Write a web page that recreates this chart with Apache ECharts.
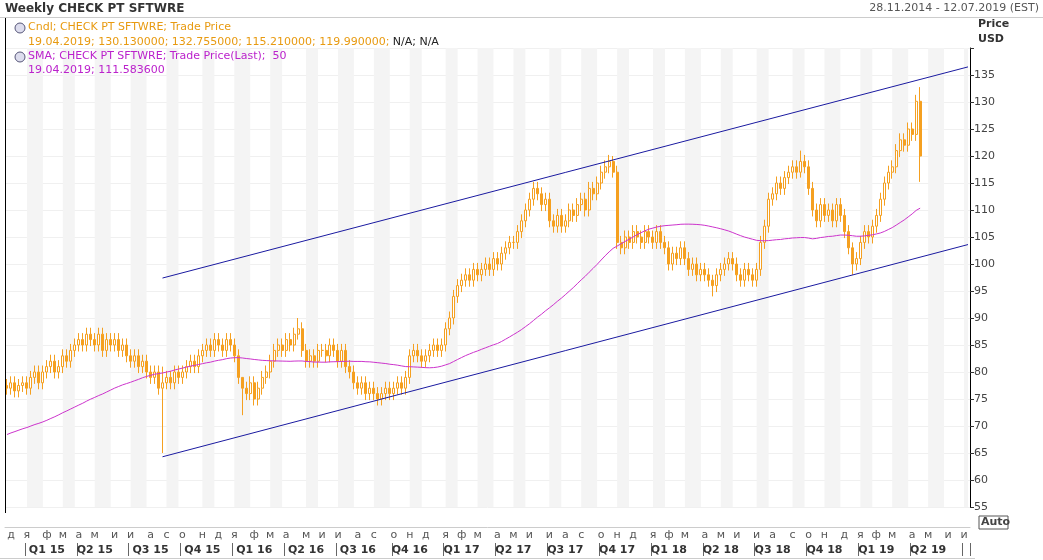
<!DOCTYPE html>
<html><head><meta charset="utf-8">
<script src="https://cdn.jsdelivr.net/npm/echarts@6/dist/echarts.min.js"></script>
<style>html,body{margin:0;padding:0;background:#fff}#c{width:1043px;height:560px}</style>
</head><body><div id="c"></div>
<script>
// Weekly closes, 28.11.2014 .. 19.04.2019
const closes = [
77,78,76.5,77.5,78,
77,79,80,78,80, 81,82,80,81, 83,82,84,85, 86,85,87,86, 85,87,84,86,85, 86,84,85,83,
82,83,81,82,80, 79,80,77,78, 79,78,80,79, 80,81,82,81,83, 84,85,84,86, 85,84,86,85,
83,79,77,76,78, 75,77,79,80, 82,84,85,84, 86,85,87,88,84, 82,83,82,84, 84,83,85,84,
82,84,81,80,78, 77,78,76,77, 76,75,76,77,76, 77,78,77,79, 83,84,83,82, 83,84,85,84,85,
88,90,94,96, 97,98,97,99, 98,99,100,99,101, 100,102,103,104, 104,106,108,110, 112,114,113,111,112,
108,107,109,107, 108,110,109,111, 112,110,114,113,115, 117,118,119,117, 104,103,105,104, 106,105,104,106,105,
104,106,104,103, 100,102,101,103, 101,99,100,98,99, 98,97,96,98, 99,100,101,100, 98,97,99,98,97,
99,104,107,112, 113,115,114,116,117, 118,117,119,118, 114,110,108,111, 109,110,108,111,109, 106,103,100,101,
104,106,105,107, 109,112,115,117,118, 121,123,122,125, 124,130.13,119.99
];
// closes of the 49 weeks before the window (for SMA 50)
const priorCloses = [63,64,64,65,66,65,66,67,67,66,65,64,63,64,65,66,67,68,68,67,68,69,70,69,68,67,68,69,70,71,70,69,68,67,68,69,70,71,72,71,70,69,70,71,72,73,74,75,76];
const firstOpen = 77.5;
const wick = 1.2;
// notable candles: date -> [open, high, low]
const overrides = {
 '2015-08-28':[null,81,65], '2016-01-15':[null,79,72], '2016-04-22':[null,90,86],
 '2018-04-20':[null,98,94], '2018-12-21':[null,104,98], '2017-10-27':[null,120,116],
 '2018-09-21':[null,121,116], '2019-04-19':[130.13,132.755,115.21]
};
const monthLetters = ['я','ф','м','а','м','и','и','а','с','о','н','д'];
const smaLast = 111.5836, lastClose = 119.99;
const channelUpper = [['2015-08-28',97.4],['2019-07-12',136.5]];
const channelLower = [['2015-08-28',64.3],['2019-07-12',103.6]];

const cats = [];
let d = new Date(Date.UTC(2014,10,28));
for (let i=0;i<242;i++){cats.push(d.toISOString().slice(0,10)); d = new Date(d.getTime()+7*864e5);}
const candle = closes.map((c,i)=>{
  const k=cats[i]; let o = i? closes[i-1]:firstOpen;
  let h=Math.max(o,c)+wick, l=Math.min(o,c)-wick;
  if(overrides[k]){const v=overrides[k]; if(v[0]!=null)o=v[0]; h=v[1]; l=v[2];}
  return [o,c,l,h];
});
const all = priorCloses.concat(closes);
const sma = closes.map((c,i)=>{let s=0;for(let j=i;j<i+50;j++)s+=all[j];return +(s/50).toFixed(3);});

const mon = k=>+k.slice(5,7);
const isMonthStart = i=> i===0 || mon(cats[i])!==mon(cats[i-1]);
const isQStart = i=> i>0 && isMonthStart(i) && (mon(cats[i])-1)%3===0;
const isQMid = i=> i>0 && isMonthStart(i) && (mon(cats[i])-1)%3===1;
const bands=[]; let start=null;
for(let i=0;i<cats.length;i++){ if(isMonthStart(i)){ if(start!=null){bands.push([start,i-1]);start=null;} if(mon(cats[i])%2===1) start=i; } }
if(start!=null) bands.push([start,cats.length-1]);
const markAreas = bands.map(b=>[{xAxis:cats[b[0]]},{xAxis:cats[b[1]]}]);

const orange='#f5a020', mag='#cc33cc', navy='#1a1aa0';
const F='11px Verdana, DejaVu Sans';
const chart = echarts.init(document.getElementById('c'));
chart.setOption({
 animation:false,
 grid:{left:5,right:73,top:48,bottom:53,containLabel:false,outerBoundsMode:'none'},
 xAxis:[{type:'category',data:cats,boundaryGap:true,offset:20,
   axisLine:{lineStyle:{color:'#ccc'}},
   axisTick:{interval:(i)=>isMonthStart(i),length:4,lineStyle:{color:'#666'}},
   axisLabel:{interval:(i)=>isMonthStart(i),hideOverlap:false,formatter:v=>monthLetters[mon(v)-1],color:'#555',fontSize:11,fontFamily:'DejaVu Sans',margin:3},
   splitLine:{show:false}},
  {type:'category',data:cats,position:'bottom',offset:36,axisLine:{show:true,lineStyle:{color:'rgba(0,0,0,0)'}},
   axisTick:{show:true,interval:(i)=>isQStart(i),length:13,lineStyle:{color:'#666',width:1}},
   axisLabel:{interval:0,hideOverlap:false,formatter:(v,i)=>isQMid(i)?'Q'+Math.ceil(mon(v)/3)+' '+v.slice(2,4):'',color:'#333',fontWeight:'bold',fontSize:11,fontFamily:'DejaVu Sans',margin:2}}],
 yAxis:{type:'value',position:'right',min:55,max:140,interval:5,
   axisLine:{show:true,lineStyle:{color:'#000'}},axisTick:{show:true,length:4,lineStyle:{color:'#333'}},
   axisLabel:{color:'#444',fontSize:11,fontFamily:'Verdana, DejaVu Sans',margin:4,formatter:v=>v>=140?'':v},
   splitLine:{lineStyle:{color:'#f0f0f0'}}},
 series:[
  {type:'candlestick',data:candle,barWidth:2.5,
   itemStyle:{color:'#ffffff',color0:orange,borderColor:orange,borderColor0:orange,borderWidth:1},
   markArea:{silent:true,itemStyle:{color:'#f4f4f4'},data:markAreas},
   markLine:{silent:true,symbol:'none',animation:false,
     data:[
      [{coord:channelUpper[0]},{coord:channelUpper[1]}],
      [{coord:channelLower[0]},{coord:channelLower[1]}],
      {yAxis:lastClose,lineStyle:{opacity:0},label:{show:true,position:'end',distance:2,formatter:'119.990000',backgroundColor:'#f5a000',color:'#000',fontWeight:'bold',fontSize:11,padding:[2,3]}},
      {yAxis:smaLast,lineStyle:{opacity:0},label:{show:true,position:'end',distance:2,formatter:'111.583600',backgroundColor:'#dd44ee',color:'#222',fontSize:11,padding:[2,3]}}
     ],
     lineStyle:{color:navy,width:1,type:'solid'},label:{show:false}}},
  {type:'line',data:sma,symbol:'none',lineStyle:{color:mag,width:1},z:3}
 ],
 graphic:{elements:[
  {type:'text',z:100,left:5,top:3,style:{text:'Weekly CHECK PT SFTWRE',font:'bold 12px Verdana, DejaVu Sans',fill:'#333'}},
  {type:'text',z:100,right:4,top:3,style:{text:'28.11.2014 - 12.07.2019 (EST)',font:F,fill:'#555'}},
  {type:'rect',z:100,shape:{x:0,y:17,width:1043,height:1},style:{fill:'#ccc'}},
  {type:'rect',z:100,shape:{x:5,y:18,width:1,height:495},style:{fill:'#000'}},
  {type:'text',z:100,left:978,top:19,style:{text:'Price',font:'bold 11px Verdana, DejaVu Sans',fill:'#333'}},
  {type:'text',z:100,left:978,top:34,style:{text:'USD',font:'bold 11px Verdana, DejaVu Sans',fill:'#333'}},
  {type:'circle',z:100,shape:{cx:20,cy:28,r:5},style:{fill:'#dde',stroke:'#557'}},
  {type:'text',z:100,left:28,top:22,style:{text:'Cndl; CHECK PT SFTWRE; Trade Price',font:F,fill:'#e89a10'}},
  {type:'text',z:100,left:28,top:36,style:{rich:{a:{fill:'#e89a10',font:F},b:{fill:'#222',font:F}},text:'{a|19.04.2019; 130.130000; 132.755000; 115.210000; 119.990000;} {b|N/A; N/A}'}},
  {type:'circle',z:100,shape:{cx:20,cy:57,r:5},style:{fill:'#dde',stroke:'#557'}},
  {type:'text',z:100,left:28,top:51,style:{text:'SMA; CHECK PT SFTWRE; Trade Price(Last);  50',font:F,fill:'#bb22cc'}},
  {type:'text',z:100,left:28,top:65,style:{text:'19.04.2019; 111.583600',font:F,fill:'#bb22cc'}},
  {type:'rect',z:100,shape:{x:0,y:558,width:975,height:1},style:{fill:'#ccc'}},
  {type:'rect',z:100,shape:{x:979,y:516,width:29,height:13},style:{fill:'#fff',stroke:'#555'}},
  {type:'text',z:100,left:981,top:517,style:{text:'Auto',font:'bold 11px Verdana, DejaVu Sans',fill:'#444'}}
 ]}
});
</script></body></html>
